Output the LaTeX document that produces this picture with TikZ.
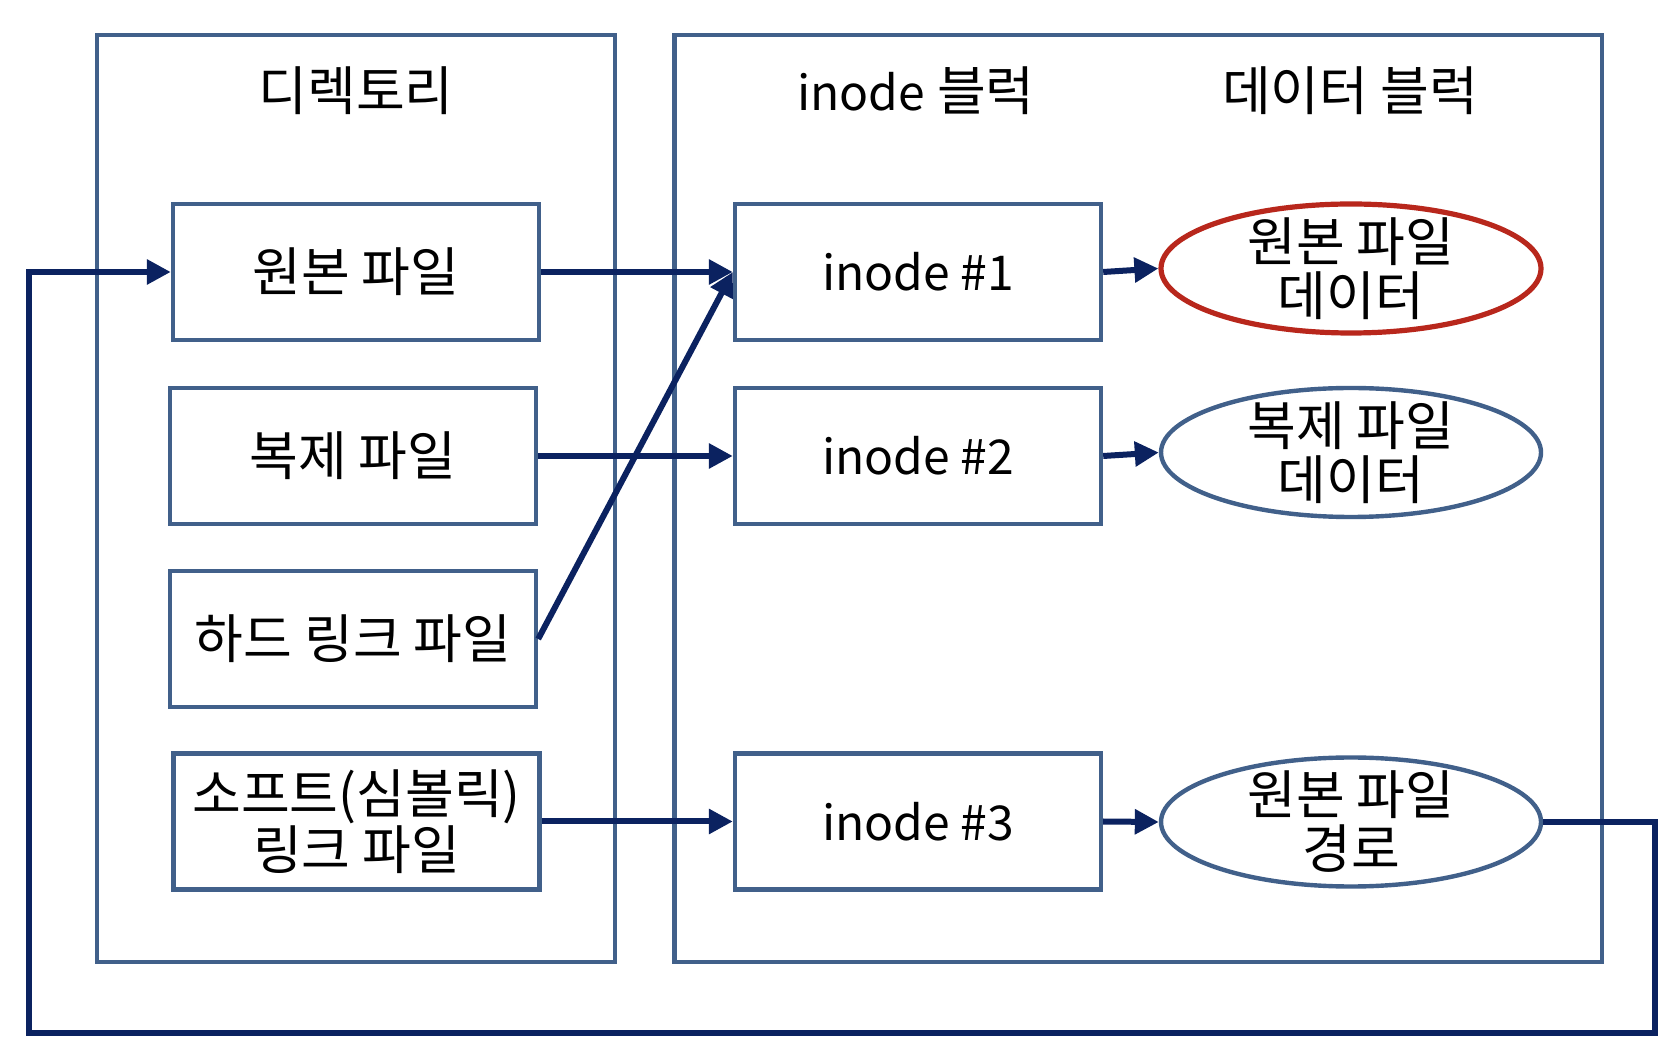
\documentclass[tikz,border=0pt]{standalone}
\usepackage{fontspec}
\setmainfont{Noto Sans CJK KR}
\usetikzlibrary{arrows.meta,shapes.geometric}
\definecolor{boxc}{HTML}{41608A}
\definecolor{arrc}{HTML}{0B2260}
\definecolor{redc}{HTML}{B8271C}
\newcommand{\lat}[1]{{\fontsize{24}{27}\selectfont #1}}
\tikzset{
  container/.style={draw=boxc,line width=2.2pt},
  filebox/.style={draw=boxc,line width=2.2pt,fill=white,inner sep=0pt,minimum width=183pt,minimum height=68pt,align=center,font=\fontsize{26.5}{27}\selectfont},
  databox/.style={ellipse,draw=boxc,line width=2.2pt,fill=white,inner sep=0pt,minimum width=190pt,minimum height=64.5pt},
  dtext/.style={align=center,font=\fontsize{26.5}{27}\selectfont,inner sep=0pt},
  title/.style={font=\fontsize{26.5}{27}\selectfont},
  conn/.style={draw=arrc,line width=3pt,-{Triangle[length=12pt,width=12pt]}},
}
\begin{document}
\begin{tikzpicture}[x=0.5pt,y=-0.5pt]
\useasboundingbox (0,0) rectangle (1676,1052);
\draw[container] (97,35) rectangle (615,962);
\draw[container] (674.5,35) rectangle (1602,962);
\node[title] (t1) at (356,91) {디렉토리};
\node[title] (t2) at (916,91) {\lat{inode} 블럭};
\node[title] (t3) at (1350,91) {데이터 블럭};
\node[filebox] (orig) at (356,272) {원본 파일};
\node[filebox] (copy) at (353,456) {복제 파일};
\node[filebox] (hard) at (353,639) {하드 링크 파일};
\node[filebox] (soft) at (356.5,821.5) {소프트(심볼릭)\\링크 파일};
\node[filebox] (in1) at (918,272) {\lat{inode \#1}};
\node[filebox] (in2) at (918,456) {\lat{inode \#2}};
\node[filebox] (in3) at (918,821.5) {\lat{inode \#3}};
\node[databox,draw=redc,line width=2.6pt] (d1) at (1351,268.5) {};
\node[databox] (d2) at (1351,452.5) {};
\node[databox] (d3) at (1351,822) {};
\node[dtext] (d1t) at (d1.center) {원본 파일\\데이터};
\node[dtext] (d2t) at (d2.center) {복제 파일\\데이터};
\node[dtext] (d3t) at (d3.center) {원본 파일\\경로};
\coordinate (lr) at (1655,822);
\coordinate (lb) at (1655,1033);
\coordinate (lbl) at (29,1033);
\coordinate (lt) at (29,272);
\draw[conn] (orig.east) -- (in1.west);
\draw[conn] (copy.east) -- (in2.west);
\draw[conn] (hard.east) -- (in1.west);
\draw[conn] (soft.east |- in3.west) -- (in3.west);
\draw[conn] (in1.east) -- (d1.west);
\draw[conn] (in2.east) -- (d2.west);
\draw[conn] (in3.east) -- (d3.west);
\draw[conn] (d3.east) -- (lr) -- (lb) -- (lbl) -- (lt) -- (orig.west);
\end{tikzpicture}
\end{document}
